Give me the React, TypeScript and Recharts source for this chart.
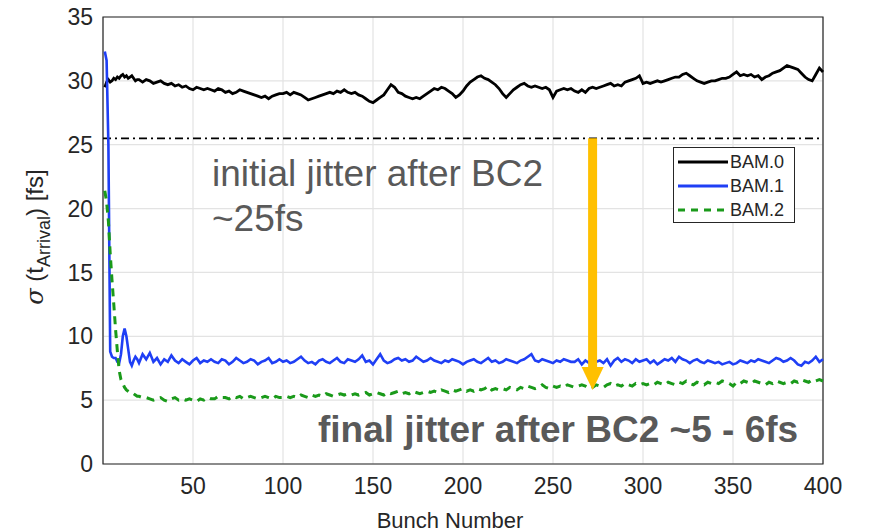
import {
  CartesianGrid,
  Line,
  LineChart,
  ReferenceArea,
  ReferenceLine,
  XAxis,
  YAxis,
} from "recharts";

// bunch numbers: every bunch up to 20, then every second bunch
const bunches: number[] = [
  ...Array.from({ length: 20 }, (_, i) => i + 1),
  ...Array.from({ length: 190 }, (_, i) => 22 + 2 * i),
];

const bam0 = [
  29.5, 29.9, 30.1, 29.9, 30.0, 30.2, 30.1, 30.3, 30.2, 30.4, 30.5, 30.3, 30.4, 30.2, 30.3, 30.4, 30.2, 30.0, 30.1, 30.1,
  29.9, 30.1, 30.0, 29.8, 29.9, 30.0, 29.8, 29.7, 29.8, 29.6, 29.7, 29.5, 29.6, 29.4, 29.3, 29.5, 29.4, 29.3, 29.4, 29.3,
  29.2, 29.4, 29.3, 29.1, 29.2, 29.0, 29.1, 29.3, 29.2, 29.1, 29.0, 28.9, 28.8, 28.7, 28.8, 28.6, 28.8, 28.9, 29.0, 29.0,
  29.1, 28.9, 29.1, 29.0, 28.9, 28.7, 28.5, 28.6, 28.7, 28.8, 28.9, 29.0, 29.1, 29.0, 29.2, 29.1, 29.3, 29.1, 29.0, 29.1,
  28.9, 28.8, 28.6, 28.4, 28.3, 28.5, 28.7, 28.9, 29.3, 29.7, 29.5, 29.1, 29.0, 28.8, 28.7, 28.6, 28.7, 28.6, 28.8, 29.0,
  29.2, 29.4, 29.3, 29.5, 29.4, 29.2, 29.0, 28.7, 28.9, 29.2, 29.6, 29.9, 30.1, 30.3, 30.4, 30.2, 30.1, 29.9, 29.7, 29.4,
  29.0, 28.7, 29.0, 29.3, 29.5, 29.7, 29.8, 29.6, 29.5, 29.6, 29.5, 29.4, 29.5, 29.3, 28.7, 29.2, 29.3, 29.4, 29.3, 29.4,
  29.2, 29.1, 29.3, 29.1, 29.4, 29.5, 29.4, 29.5, 29.6, 29.7, 29.8, 29.6, 29.7, 29.6, 29.9, 30.0, 30.1, 30.2, 30.4, 29.8,
  29.9, 29.8, 29.9, 30.0, 29.9, 30.0, 30.1, 30.2, 30.3, 30.3, 30.5, 30.6, 30.4, 30.2, 30.0, 29.9, 29.8, 29.9, 30.0, 30.0,
  30.1, 30.2, 30.2, 30.3, 30.5, 30.7, 30.4, 30.5, 30.4, 30.5, 30.3, 30.4, 30.1, 30.3, 30.4, 30.6, 30.7, 30.8, 31.0, 31.2,
  31.1, 31.0, 30.9, 30.6, 30.3, 30.1, 30.0, 30.5, 31.0, 30.7,
];

const bam1 = [
  32.3, 31.6, 25.0, 8.8, 8.4, 8.3, 8.3, 8.0, 7.9, 8.6, 10.0, 10.6, 10.0, 9.0, 8.0, 7.7, 8.1, 8.4, 8.2, 7.9,
  8.6, 8.2, 8.7, 8.0, 8.3, 7.8, 8.2, 8.0, 8.5, 8.1, 7.9, 8.2, 8.0, 7.8, 8.1, 8.3, 7.9, 8.1, 8.0, 8.2,
  8.0, 7.9, 8.2, 8.1, 7.8, 8.0, 8.3, 8.1, 7.9, 8.0, 8.2, 8.1, 7.8, 8.0, 8.1, 8.3, 7.9, 8.0, 8.2, 8.0,
  8.1, 7.9, 8.0, 8.2, 8.4, 8.1, 7.9, 8.0, 7.8, 8.1, 8.2, 8.0, 7.9, 8.1, 8.3, 8.0, 7.9, 8.2, 8.1, 8.0,
  8.2, 8.5, 8.0, 8.1, 7.8, 8.2, 8.6, 8.1, 7.9, 8.0, 8.2, 8.3, 8.1, 8.2, 8.0, 8.1, 8.4, 8.2, 8.0, 8.1,
  8.3, 8.1, 8.0, 7.9, 8.1, 8.0, 8.2, 8.1, 8.0, 7.8, 8.0, 8.1, 8.2, 8.0, 7.9, 8.1, 8.3, 8.0, 8.1, 7.9,
  8.0, 8.2, 8.1, 8.0, 7.9, 8.1, 8.2, 8.4, 8.6, 8.1, 8.0, 8.2, 8.1, 8.0, 7.9, 8.1, 8.0, 8.2, 8.1, 8.0,
  8.0, 8.2, 7.8, 8.1, 7.9, 8.2, 8.0, 8.1, 7.9, 8.2, 7.7, 8.1, 8.3, 8.0, 8.2, 8.1, 7.9, 8.2, 8.0, 8.1,
  8.2, 7.9, 8.1, 7.8, 8.0, 8.2, 8.1, 8.3, 8.0, 8.4, 8.2, 8.1, 7.9, 8.1, 8.2, 8.0, 7.9, 8.1, 8.0, 7.9,
  8.0, 7.8, 7.9, 8.0, 7.8, 7.9, 8.1, 8.0, 7.9, 8.1, 8.0, 8.2, 8.1, 8.0, 7.9, 8.1, 8.3, 8.2, 8.0, 8.1,
  8.3, 8.1, 7.8, 7.7, 8.0, 7.9, 8.1, 8.4, 8.0, 8.2,
];

const bam2 = [
  21.4, 20.5, 19.0, 16.5, 14.4, 12.5, 10.5, 8.8, 7.3, 6.6, 6.3, 6.0, 5.8, 5.7, 5.6, 5.6, 5.5, 5.4, 5.3, 5.3,
  5.2, 5.2, 5.1, 5.0, 5.1, 5.2, 5.0, 4.9, 5.1, 5.2, 5.0, 5.1, 5.0, 5.1, 5.0, 4.9, 5.1, 5.0, 5.2, 5.1,
  5.1, 5.3, 5.2, 5.2, 5.1, 5.3, 5.2, 5.3, 5.1, 5.2, 5.3, 5.2, 5.1, 5.2, 5.3, 5.2, 5.1, 5.3, 5.2, 5.2,
  5.3, 5.2, 5.3, 5.2, 5.4, 5.3, 5.2, 5.4, 5.3, 5.4, 5.3, 5.5, 5.4, 5.3, 5.4, 5.5, 5.4, 5.5, 5.4, 5.5,
  5.4, 5.5, 5.6, 5.4, 5.5, 5.6, 5.5, 5.4, 5.6, 5.5, 5.6, 5.7, 5.5, 5.6, 5.5, 5.7, 5.6, 5.5, 5.6, 5.7,
  5.6, 5.7, 5.6, 5.8, 5.7, 5.6, 5.8, 5.7, 5.8, 5.9, 5.7, 5.8, 5.7, 5.9, 5.8, 5.9, 6.1, 5.8, 5.9, 5.8,
  5.9, 5.8, 6.0, 5.9, 5.8, 6.0, 5.9, 6.1, 6.0, 5.9, 6.0, 6.2, 6.0, 5.9, 6.1, 6.0, 6.1, 6.0, 6.2, 6.1,
  6.0, 6.1, 6.2, 6.1, 5.9, 6.0, 6.2, 6.1, 6.0, 6.2, 6.3, 6.1, 6.2, 6.1, 6.3, 6.2, 6.1, 6.3, 6.2, 6.3,
  6.2, 6.3, 6.2, 6.4, 6.3, 6.2, 6.4, 6.3, 6.2, 6.4, 6.3, 6.5, 6.3, 6.2, 6.4, 6.3, 6.2, 6.4, 6.3, 6.4,
  6.3, 6.5, 6.4, 6.3, 6.1, 6.4, 6.3, 6.5, 6.4, 6.3, 6.5, 6.4, 6.3, 6.2, 6.4, 6.3, 6.5, 6.4, 6.3, 6.4,
  6.3, 6.5, 6.4, 6.6, 6.5, 6.4, 6.6, 6.5, 6.6, 6.5,
];

const xTicks = [50, 100, 150, 200, 250, 300, 350, 400];
const yTicks = [0, 5, 10, 15, 20, 25, 30, 35];
const seriesNames = ["BAM.0", "BAM.1", "BAM.2"];
const initialLevel = 25.5;
const arrowStart = { x: 272, y: 25.5 };
const arrowEnd = { x: 272, y: 5.8 };

const rows = bunches.map((b, i) => ({
  bunch: b,
  bam0: bam0[i],
  bam1: bam1[i],
  bam2: bam2[i],
}));

const FONT = '"Liberation Sans", Arial, Helvetica, sans-serif';
const AXIS_COLOR = "#262626";
const NOTE_COLOR = "#595959";
const ORANGE = "#FFC000";

const legendItems = [
  { name: seriesNames[0], color: "#000000", dash: undefined },
  { name: seriesNames[1], color: "#1f3ff5", dash: undefined },
  { name: seriesNames[2], color: "#1a9a1a", dash: "7 6" },
];

function LegendBox() {
  return (
    <div
      style={{
        position: "absolute",
        left: 673,
        top: 147,
        border: "1px solid #262626",
        background: "#fff",
        width: 122,
        height: 76,
        boxSizing: "border-box",
      }}
    >
      <svg width={120} height={74} style={{ display: "block" }}>
        {legendItems.map((item, i) => (
          <g key={item.name}>
            <line
              x1={4}
              x2={54}
              y1={14 + i * 24}
              y2={14 + i * 24}
              stroke={item.color}
              strokeWidth={3}
              strokeDasharray={item.dash}
            />
            <text
              x={56}
              y={20 + i * 24}
              fontFamily={FONT}
              fontSize={18}
              fill={AXIS_COLOR}
            >
              {item.name}
            </text>
          </g>
        ))}
      </svg>
    </div>
  );
}

function YLabel() {
  return (
    <text
      transform="translate(43, 237) rotate(-90)"
      textAnchor="middle"
      fontFamily={FONT}
      fontSize={24}
      fill={AXIS_COLOR}
    >
      <tspan fontFamily="DejaVu Serif, serif" fontStyle="italic">σ</tspan>
      <tspan> (t</tspan>
      <tspan fontSize={18} dy={7}>Arrival</tspan>
      <tspan dy={-7}>) [fs]</tspan>
    </text>
  );
}

function XLabel() {
  return (
    <text
      x={450}
      y={528}
      textAnchor="middle"
      fontFamily={FONT}
      fontSize={22}
      fill={AXIS_COLOR}
    >
      Bunch Number
    </text>
  );
}

function ArrowShape(props: any) {
  const { x1, y1, x2, y2 } = props;
  const head = 23;
  const half = 11;
  return (
    <g>
      <line
        x1={x1}
        y1={y1}
        x2={x2}
        y2={y2 - head + 1}
        stroke={ORANGE}
        strokeWidth={9}
      />
      <polygon
        points={`${x2 - half},${y2 - head} ${x2 + half},${y2 - head} ${x2},${y2}`}
        fill={ORANGE}
      />
    </g>
  );
}

// inward-pointing MATLAB style tick marks
const innerTick = { stroke: AXIS_COLOR, strokeWidth: 1.2 };
const noLabel = () => <g />;

export default function App() {
  return (
    <div
      style={{
        position: "absolute",
        left: 0,
        top: 0,
        width: 869,
        height: 532,
        background: "#fff",
      }}
    >
      <LineChart
        width={869}
        height={532}
        data={rows}
        margin={{ top: 17, right: 46, left: 0, bottom: 0 }}
      >
        <CartesianGrid stroke="#e3e3e3" strokeWidth={1.2} />
        <XAxis
          xAxisId="bin"
          dataKey="bunch"
          type="number"
          orientation="bottom"
          domain={[0, 400]}
          ticks={xTicks}
          mirror
          height={0}
          axisLine={false}
          tick={noLabel}
          tickSize={6}
          tickLine={innerTick}
        />
        <XAxis
          dataKey="bunch"
          type="number"
          domain={[0, 400]}
          ticks={xTicks}
          axisLine={false}
          tickLine={false}
          tickSize={0}
          tickMargin={14}
          height={68}
          tick={{ fill: AXIS_COLOR, fontSize: 23, fontFamily: FONT }}
          label={{ content: () => <XLabel /> }}
        />
        <XAxis
          xAxisId="top"
          dataKey="bunch"
          type="number"
          orientation="top"
          domain={[0, 400]}
          ticks={xTicks}
          mirror
          height={0}
          axisLine={false}
          tick={noLabel}
          tickSize={6}
          tickLine={innerTick}
        />
        <YAxis
          yAxisId="lin"
          type="number"
          domain={[0, 35]}
          ticks={yTicks}
          mirror
          width={0}
          axisLine={false}
          tick={noLabel}
          tickSize={6}
          tickLine={innerTick}
        />
        <YAxis
          type="number"
          domain={[0, 35]}
          ticks={yTicks}
          axisLine={false}
          tickLine={false}
          tickSize={0}
          tickMargin={10}
          width={103}
          tick={{ fill: AXIS_COLOR, fontSize: 23, fontFamily: FONT }}
          label={{ content: () => <YLabel /> }}
        />
        <YAxis
          yAxisId="right"
          type="number"
          orientation="right"
          domain={[0, 35]}
          ticks={yTicks}
          mirror
          width={0}
          axisLine={false}
          tick={noLabel}
          tickSize={6}
          tickLine={innerTick}
        />
        <ReferenceArea
          x1={0}
          x2={400}
          y1={0}
          y2={35}
          fill="none"
          stroke={AXIS_COLOR}
          strokeWidth={1.2}
        />
        <ReferenceLine
          y={initialLevel}
          stroke="#000"
          strokeWidth={1.6}
          strokeDasharray="8 4 2 4"
        />
        <Line
          type="linear"
          dataKey="bam0"
          name={seriesNames[0]}
          stroke="#000000"
          strokeWidth={2.8}
          dot={false}
          isAnimationActive={false}
        />
        <Line
          type="linear"
          dataKey="bam1"
          name={seriesNames[1]}
          stroke="#1f3ff5"
          strokeWidth={2.6}
          dot={false}
          isAnimationActive={false}
        />
        <Line
          type="linear"
          dataKey="bam2"
          name={seriesNames[2]}
          stroke="#1a9a1a"
          strokeWidth={3}
          strokeDasharray="8 6"
          dot={false}
          isAnimationActive={false}
        />
        <ReferenceLine
          segment={[arrowStart, arrowEnd]}
          stroke={ORANGE}
          shape={ArrowShape}
        />
      </LineChart>
      <LegendBox />
      <svg
        width={869}
        height={532}
        style={{ position: "absolute", left: 0, top: 0, pointerEvents: "none" }}
      >
        <text x={212} y={186} fontFamily={FONT} fontSize={37} fill={NOTE_COLOR}>
          initial jitter after BC2
        </text>
        <text x={212} y={231} fontFamily={FONT} fontSize={37} fill={NOTE_COLOR}>
          ~25fs
        </text>
        <text
          x={318}
          y={442}
          fontFamily={FONT}
          fontSize={37}
          fontWeight="bold"
          fill={NOTE_COLOR}
        >
          final jitter after BC2 ~5 - 6fs
        </text>
      </svg>
    </div>
  );
}
